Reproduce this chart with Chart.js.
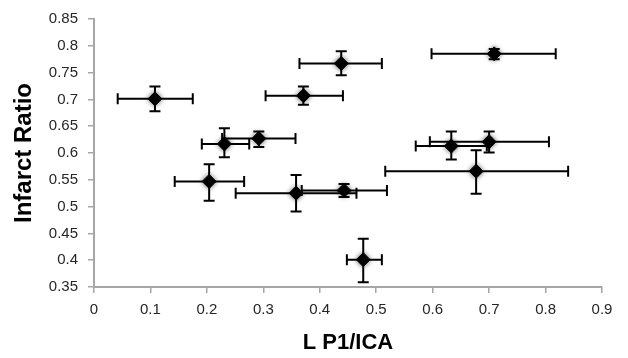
<!DOCTYPE html>
<html>
<head>
<meta charset="utf-8">
<script src="https://cdn.jsdelivr.net/npm/chart.js@4.4.0/dist/chart.umd.min.js"></script>
<style>
  html, body { margin: 0; padding: 0; background: #fff; }
  #wrap { width: 628px; height: 358px; }
</style>
</head>
<body>
<div id="wrap"><canvas id="chart" width="628" height="358"></canvas></div>
<script>
// Mean L P1/ICA ratio and infarct ratio per animal, with error bar ends
const xValues = [0.108, 0.371, 0.438, 0.709, 0.292, 0.231, 0.204, 0.358, 0.443, 0.477, 0.633, 0.700, 0.677];
const yValues = [0.701, 0.707, 0.767, 0.785, 0.627, 0.617, 0.547, 0.525, 0.530, 0.401, 0.613, 0.621, 0.566];
const xLow    = [0.042, 0.304, 0.364, 0.598, 0.227, 0.191, 0.143, 0.251, 0.368, 0.448, 0.570, 0.595, 0.516];
const xHigh   = [0.175, 0.441, 0.510, 0.818, 0.357, 0.275, 0.266, 0.465, 0.519, 0.510, 0.696, 0.806, 0.840];
const yLow    = [0.678, 0.690, 0.745, 0.775, 0.611, 0.592, 0.511, 0.491, 0.518, 0.359, 0.588, 0.601, 0.524];
const yHigh   = [0.724, 0.724, 0.790, 0.794, 0.640, 0.646, 0.579, 0.559, 0.542, 0.440, 0.640, 0.640, 0.605];

const xTitle = 'L P1/ICA';
const yTitle = 'Infarct Ratio';

const points = xValues.map((x, i) => ({ x: x, y: yValues[i] }));

const axisGray = '#a6a6a6';
const labelColor = '#262626';

// draws the x and y error bars under the markers
const errorBars = {
    id: 'errorBars',
    beforeDatasetsDraw: function(chart) {
        const ctx = chart.ctx;
        const xs = chart.scales.x;
        const ys = chart.scales.y;
        const cap = 5.5;
        ctx.save();
        ctx.strokeStyle = '#000';
        ctx.lineWidth = 2;
        xValues.forEach((x, i) => {
            const px = xs.getPixelForValue(x);
            const py = ys.getPixelForValue(yValues[i]);
            const x1 = xs.getPixelForValue(xLow[i]);
            const x2 = xs.getPixelForValue(xHigh[i]);
            const y1 = ys.getPixelForValue(yLow[i]);
            const y2 = ys.getPixelForValue(yHigh[i]);
            ctx.beginPath();
            // horizontal
            ctx.moveTo(x1, py); ctx.lineTo(x2, py);
            ctx.moveTo(x1, py - cap); ctx.lineTo(x1, py + cap);
            ctx.moveTo(x2, py - cap); ctx.lineTo(x2, py + cap);
            // vertical
            ctx.moveTo(px, y1); ctx.lineTo(px, y2);
            ctx.moveTo(px - cap, y1); ctx.lineTo(px + cap, y1);
            ctx.moveTo(px - cap, y2); ctx.lineTo(px + cap, y2);
            ctx.stroke();
        });
        ctx.restore();
    },
    beforeDatasetDraw: function(chart) {
        chart.ctx.save();
        chart.ctx.shadowColor = 'rgba(0,0,0,0.55)';
        chart.ctx.shadowBlur = 5;
    },
    afterDatasetDraw: function(chart) {
        chart.ctx.restore();
    }
};

new Chart(document.getElementById('chart'), {
    type: 'scatter',
    data: {
        datasets: [{
            data: points,
            pointStyle: 'rectRot',
            pointRadius: 7,
            pointHoverRadius: 7,
            backgroundColor: '#000',
            borderColor: '#000',
            borderWidth: 1
        }]
    },
    options: {
        responsive: false,
        animation: false,
        events: [],
        layout: { padding: { top: 11, right: 26, left: 0, bottom: 0 } },
        plugins: { legend: { display: false }, tooltip: { enabled: false } },
        scales: {
            x: {
                type: 'linear',
                min: 0,
                max: 0.9,
                afterFit: function(scale) { scale.height = 71; },
                ticks: {
                    stepSize: 0.1,
                    padding: 8,
                    color: labelColor,
                    font: { family: 'Liberation Sans', size: 15 },
                    callback: v => String(+v.toFixed(2))
                },
                grid: { drawOnChartArea: false, drawTicks: true, tickLength: 6, color: axisGray, lineWidth: 1.5 },
                border: { color: axisGray, width: 2 },
                title: {
                    display: true,
                    text: xTitle,
                    color: '#000',
                    font: { family: 'Liberation Sans', size: 22, weight: 'bold' },
                    padding: { top: 0, bottom: 2 }
                }
            },
            y: {
                type: 'linear',
                min: 0.35,
                max: 0.85,
                afterFit: function(scale) { scale.width = 94; },
                ticks: {
                    stepSize: 0.05,
                    padding: 10,
                    color: labelColor,
                    font: { family: 'Liberation Sans', size: 15 },
                    callback: v => String(+v.toFixed(2))
                },
                grid: { drawOnChartArea: false, drawTicks: true, tickLength: 6, color: axisGray, lineWidth: 1.5 },
                border: { color: axisGray, width: 2 },
                title: {
                    display: true,
                    text: yTitle,
                    color: '#000',
                    font: { family: 'Liberation Sans', size: 24, weight: 'bold' },
                    padding: { top: 10, bottom: 0 }
                }
            }
        }
    },
    plugins: [errorBars]
});
</script>
</body>
</html>
